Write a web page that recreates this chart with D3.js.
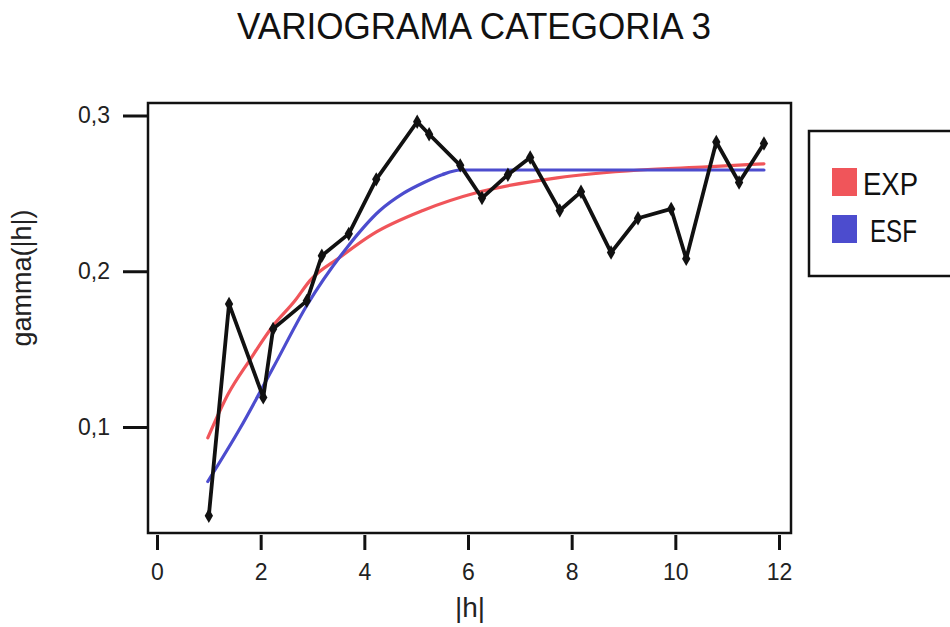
<!DOCTYPE html>
<html>
<head>
<meta charset="utf-8">
<script src="https://cdn.jsdelivr.net/npm/d3@7"></script>
<style>
  html, body { margin: 0; padding: 0; background: #fff; }
  svg { display: block; font-family: "Liberation Sans", Arial, sans-serif; }
</style>
</head>
<body>
<svg id="chart" width="950" height="627"></svg>
<script>
// ---- data ----
const lagH     = [1.0, 1.39, 2.05, 2.24, 2.89, 3.18, 3.70, 4.23, 5.02, 5.25, 5.85, 6.27, 6.77, 7.20, 7.77, 8.18, 8.76, 9.28, 9.92, 10.21, 10.79, 11.23, 11.71];
const gammaObs = [0.043, 0.179, 0.119, 0.163, 0.181, 0.210, 0.224, 0.259, 0.296, 0.288, 0.268, 0.247, 0.262, 0.273, 0.239, 0.251, 0.212, 0.234, 0.240, 0.208, 0.283, 0.257, 0.282];

const expH     = [0.98, 1.37, 1.79, 2.24, 2.66, 2.95, 3.53, 4.17, 5.13, 6.23, 7.72, 9.32, 10.61, 11.71];
const expGamma = [0.093, 0.121, 0.143, 0.165, 0.181, 0.194, 0.209, 0.224, 0.239, 0.251, 0.260, 0.265, 0.267, 0.269];

const esfH     = [0.98, 1.60, 2.24, 2.89, 3.66, 4.30, 4.75, 5.15, 5.50, 5.85, 6.62, 8.0, 10.0, 11.71];
const esfGamma = [0.065, 0.099, 0.138, 0.178, 0.215, 0.239, 0.250, 0.257, 0.262, 0.265, 0.265, 0.265, 0.265, 0.265];

const xTicks = [0, 2, 4, 6, 8, 10, 12];
const yTicks = [0.1, 0.2, 0.3];
const legendLabels = ["EXP", "ESF"];
const titleText = "VARIOGRAMA CATEGORIA 3";
const xLabel = "|h|";
const yLabel = "gamma(|h|)";

// ---- drawing ----
const svg = d3.select("#chart");
const box = { left: 148, right: 791, top: 103, bottom: 533 };
const x = d3.scaleLinear().domain([0, 12]).range([157, 779]);
const y = d3.scaleLinear().domain([0.1, 0.3]).range([427, 115.5]);
const colors = { EXP: "#f0555a", ESF: "#4c4cce" };

// title
svg.append("text")
  .attr("x", 474).attr("y", 39)
  .attr("text-anchor", "middle")
  .attr("font-size", 36)
  .attr("textLength", 474).attr("lengthAdjust", "spacingAndGlyphs")
  .attr("fill", "#111")
  .text(titleText);

// plot box
svg.append("rect")
  .attr("x", box.left).attr("y", box.top)
  .attr("width", box.right - box.left).attr("height", box.bottom - box.top)
  .attr("fill", "none").attr("stroke", "#111").attr("stroke-width", 2.5);

// y axis
const yAxis = svg.append("g")
  .attr("transform", `translate(${box.left},0)`)
  .call(d3.axisLeft(y).tickValues(yTicks).tickSize(25).tickPadding(13)
    .tickFormat(d => d3.format(".1f")(d).replace(".", ",")));
yAxis.select(".domain").remove();
yAxis.selectAll(".tick line").attr("stroke", "#111").attr("stroke-width", 3);
yAxis.selectAll(".tick text").attr("font-size", 23).attr("fill", "#222")
  .attr("font-family", "Liberation Sans, Arial, sans-serif");

// x axis
const xAxis = svg.append("g")
  .attr("transform", `translate(0,${box.bottom + 2})`)
  .call(d3.axisBottom(x).tickValues(xTicks).tickSize(15).tickPadding(14));
xAxis.select(".domain").remove();
xAxis.selectAll(".tick line").attr("stroke", "#111").attr("stroke-width", 3);
xAxis.selectAll(".tick text").attr("font-size", 23).attr("fill", "#222")
  .attr("font-family", "Liberation Sans, Arial, sans-serif");

// axis labels
svg.append("text")
  .attr("x", 470).attr("y", 617)
  .attr("text-anchor", "middle").attr("font-size", 28).attr("fill", "#222")
  .text(xLabel);
svg.append("text")
  .attr("transform", "translate(31,278) rotate(-90)")
  .attr("text-anchor", "middle").attr("font-size", 27).attr("fill", "#222")
  .text(yLabel);

// fitted models
const fitLine = d3.line().x(d => x(d[0])).y(d => y(d[1])).curve(d3.curveMonotoneX);
svg.append("path")
  .datum(d3.zip(expH, expGamma))
  .attr("d", fitLine)
  .attr("fill", "none").attr("stroke", colors.EXP).attr("stroke-width", 3.2)
  .attr("stroke-linejoin", "round").attr("stroke-linecap", "round");
svg.append("path")
  .datum(d3.zip(esfH, esfGamma))
  .attr("d", fitLine)
  .attr("fill", "none").attr("stroke", colors.ESF).attr("stroke-width", 3.2)
  .attr("stroke-linejoin", "round").attr("stroke-linecap", "round");

// experimental variogram
const obs = d3.zip(lagH, gammaObs);
svg.append("path")
  .datum(obs)
  .attr("d", d3.line().x(d => x(d[0])).y(d => y(d[1])))
  .attr("fill", "none").attr("stroke", "#111").attr("stroke-width", 3.8)
  .attr("stroke-linejoin", "round");
svg.append("g").selectAll("path")
  .data(obs)
  .join("path")
  .attr("transform", d => `translate(${x(d[0])},${y(d[1])})`)
  .attr("d", d3.symbol(d3.symbolDiamond, 60))
  .attr("fill", "#111");

// legend
const lg = svg.append("g");
lg.append("rect")
  .attr("x", 809).attr("y", 131).attr("width", 160).attr("height", 145)
  .attr("fill", "#fff").attr("stroke", "#111").attr("stroke-width", 2.5);
const swY = [168, 215];
const txX = [863, 870];
const txLen = [55, 47];
legendLabels.forEach((lab, i) => {
  lg.append("rect")
    .attr("x", 832).attr("y", swY[i]).attr("width", 25).attr("height", 28)
    .attr("fill", colors[lab]);
  lg.append("text")
    .attr("x", txX[i]).attr("y", swY[i] + 27)
    .attr("font-size", 31).attr("fill", "#111")
    .attr("textLength", txLen[i]).attr("lengthAdjust", "spacingAndGlyphs")
    .text(lab);
});
</script>
</body>
</html>
